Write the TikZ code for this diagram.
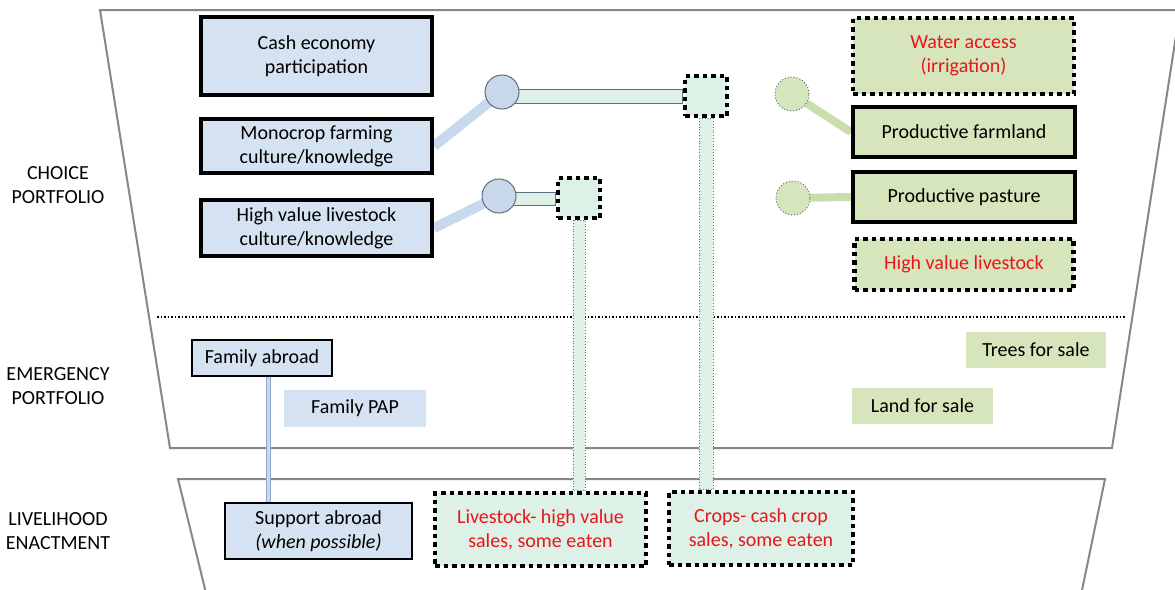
\documentclass[tikz,border=0pt]{standalone}
\usepackage{fontspec}
\setmainfont{Carlito}
\usetikzlibrary{calc,backgrounds}

\definecolor{boxblue}{RGB}{213,226,241}
\definecolor{circblue}{RGB}{201,215,234}
\definecolor{boxgreen}{RGB}{214,229,188}
\definecolor{boxmint}{RGB}{222,241,231}
\definecolor{redtext}{RGB}{232,22,26}
\definecolor{frameline}{RGB}{135,135,135}
\definecolor{barblue}{RGB}{200,217,238}
\definecolor{bargreen}{RGB}{200,222,172}
\definecolor{connline}{RGB}{95,110,128}
\definecolor{famline}{RGB}{140,168,208}

\tikzset{
	boxtext/.style={align=center, inner sep=0pt, font=\fontsize{20}{24}\selectfont},
	solidcard/.style={boxtext, draw=black, line width=4pt},
	dotcard/.style={boxtext, draw=black, line width=4.5pt, dash pattern=on 4.5pt off 4pt},
	plaincard/.style={boxtext},
	thincard/.style={boxtext, draw=black, line width=2pt},
	hub/.style={circle, fill=circblue, draw=connline, line width=1pt, minimum size=34pt, inner sep=0pt},
	greenhub/.style={circle, fill=boxgreen, draw=connline, dotted, line width=1pt, minimum size=34pt, inner sep=0pt},
	hconn/.style={fill=boxmint, draw=connline, line width=1pt},
	vconn/.style={fill=boxmint, draw=connline, dotted, line width=0.8pt},
	sidelabel/.style={align=center, font=\fontsize{20}{24}\selectfont}
}

\begin{document}
\begin{tikzpicture}[x=1pt, y=-1pt]
	\useasboundingbox (0,0) rectangle (1175,589);

	% side labels
	\node[sidelabel] (choice) at (58,185) {CHOICE\\PORTFOLIO};
	\node[sidelabel] (emerg) at (58,386) {EMERGENCY\\PORTFOLIO};
	\node[sidelabel] (enact) at (58,531) {LIVELIHOOD\\ENACTMENT};

	% choice portfolio, left
	\node[solidcard, fill=boxblue, minimum width=231pt, minimum height=78pt] (cash) at (316.5,56) {Cash economy\\participation};
	\node[solidcard, fill=boxblue, minimum width=231pt, minimum height=54pt] (mono) at (316.5,146) {Monocrop farming\\culture/knowledge};
	\node[solidcard, fill=boxblue, minimum width=231pt, minimum height=56pt] (hvk) at (316.5,228) {High value livestock\\culture/knowledge};

	\node[hub] (circ1) at (502,92) {};
	\node[hub] (circ2) at (499,196) {};
	\node[dotcard, fill=boxmint, minimum width=42pt, minimum height=40pt] (sq1) at (706,96) {};
	\node[dotcard, fill=boxmint, minimum width=42pt, minimum height=40pt] (sq2) at (579,198) {};

	% choice portfolio, right
	\node[greenhub] (gc1) at (792,94) {};
	\node[greenhub] (gc2) at (793,198) {};
	\node[dotcard, fill=boxgreen, text=redtext, minimum width=221pt, minimum height=76pt] (water) at (963.5,56) {Water access\\(irrigation)};
	\node[solidcard, fill=boxgreen, minimum width=222pt, minimum height=50pt] (farm) at (964,132) {Productive farmland};
	\node[solidcard, fill=boxgreen, minimum width=222pt, minimum height=50pt] (past) at (964,197) {Productive pasture};
	\node[dotcard, fill=boxgreen, text=redtext, minimum width=219pt, minimum height=51pt] (hvs) at (964,264.5) {High value livestock};

	% emergency portfolio
	\node[thincard, fill=boxblue, minimum width=140pt, minimum height=36pt] (famab) at (262,358) {Family abroad};
	\node[plaincard, fill=boxblue, minimum width=142pt, minimum height=37pt] (pap) at (355,408.5) {Family PAP};
	\node[plaincard, fill=boxgreen, minimum width=140pt, minimum height=36pt] (trees) at (1036,350) {Trees for sale};
	\node[plaincard, fill=boxgreen, minimum width=141pt, minimum height=36pt] (land) at (922.5,406) {Land for sale};

	% livelihood enactment
	\node[thincard, fill=boxblue, minimum width=187pt, minimum height=56pt] (supp) at (318.5,531) {Support abroad\\\textit{(when possible)}};
	\node[dotcard, fill=boxmint, text=redtext, minimum width=211pt, minimum height=73pt] (lvs) at (540.5,529.5) {Livestock- high value\\sales, some eaten};
	\node[dotcard, fill=boxmint, text=redtext, minimum width=184pt, minimum height=73pt] (crops) at (761,528.5) {Crops- cash crop\\sales, some eaten};

	\begin{scope}[on background layer]
		\fill[white] (0,0) rectangle (1175,589);

		% portfolio frames
		\draw[frameline, line width=2pt, line join=miter] (100,10) -- (1180,10) -- (1112,448) -- (170,448) -- cycle;
		\draw[frameline, line width=2pt] (206.5,595) -- (178,479) -- (1105,479) -- (1081,595);
		\draw[black, dotted, line width=1.5pt] (157,317) -- (1125,317);

		% bars into the hubs
		\draw[barblue, line width=10pt] (mono.east) -- (circ1.center);
		\draw[barblue, line width=10pt] (hvk.east) -- (circ2.center);
		\draw[bargreen, line width=8pt] (gc1.center) -- (farm.west);
		\draw[bargreen, line width=8pt] (gc2.center) -- (past.west);

		% connectors
		\draw[hconn] ($(circ1.center |- sq1.west)+(0,-7)$) rectangle ($(sq1.west)+(0,7)$);
		\draw[hconn] ($(circ2.center |- sq2.west)+(0,-6)$) rectangle ($(sq2.west)+(0,7)$);
		\draw[vconn] ($(sq2.south)+(-6,0)$) rectangle ($(sq2.south |- lvs.north)+(6,0)$);
		\draw[vconn] ($(sq1.south)+(-7,0)$) rectangle ($(sq1.south |- crops.north)+(7,0)$);
		\draw[famline, double=barblue, double distance=3pt, line width=1pt] ($(famab.south)+(6,0)$) -- ($(famab.south |- supp.north)+(6,0)$);
	\end{scope}
\end{tikzpicture}
\end{document}
